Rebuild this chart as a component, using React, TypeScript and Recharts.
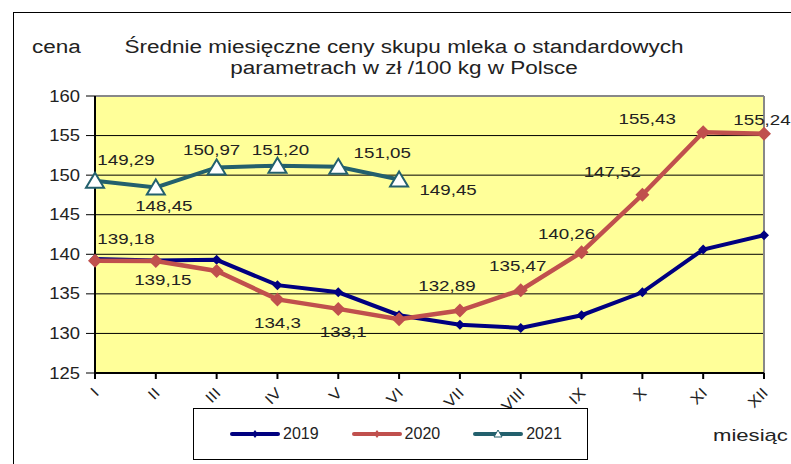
import { CartesianGrid, LabelList, Line, LineChart, ReferenceLine, XAxis, YAxis } from 'recharts';

const months = ['I', 'II', 'III', 'IV', 'V', 'VI', 'VII', 'VIII', 'IX', 'X', 'XI', 'XII'];
const prices2019 = [139.4, 139.2, 139.3, 136.1, 135.2, 132.3, 131.1, 130.7, 132.3, 135.2, 140.6, 142.4];
const prices2020 = [139.18, 139.15, 137.9, 134.3, 133.1, 131.8, 132.89, 135.47, 140.26, 147.52, 155.43, 155.24];
const prices2021 = [149.29, 148.45, 150.97, 151.2, 151.05, 149.45];
const yTicks = [125, 130, 135, 140, 145, 150, 155, 160];

// label offsets (dx, dy) from each point; null = no label
const LABELS_2020: ([number, number] | null)[] = [
  [31, -22], [7, 19], null, [0, 24], [5, 23], null,
  [-13, -24], [-3, -24], [-15, -18], [-30, -23], [-56, -13], [-2, -14],
];
const LABELS_2021: ([number, number] | null)[] = [
  [31, -21], [8, 19], [-5, -17], [3, -16], [44, -14], [49, 11],
];

const COLORS = { y2019: '#000080', y2020: '#C0504D', y2021: '#23606D' };
const FONT = '"Liberation Sans", Arial, sans-serif';
const STRETCH = 1.25;

const chartData = months.map((month, i) => ({
  month,
  y2019: prices2019[i],
  y2020: prices2020[i],
  y2021: i < prices2021.length ? prices2021[i] : null,
}));

const fmt2020 = (v: number) => String(v).replace('.', ',');
const fmt2021 = (v: number) => v.toFixed(2).replace('.', ',');

function makeLabel(offsets: ([number, number] | null)[], fmt: (v: number) => string) {
  return (props: any) => {
    const { x, y, value, index } = props;
    const off = offsets[index];
    if (!off || value == null) return null;
    return (
      <text
        transform={`translate(${x + off[0]},${y + off[1]}) scale(${STRETCH},1)`}
        textAnchor="middle"
        dominantBaseline="central"
        fontSize={15}
        fontFamily={FONT}
        fill="#222"
      >
        {fmt(value)}
      </text>
    );
  };
}

function Diamond({ cx, cy, r, color }: { cx: number; cy: number; r: number; color: string }) {
  if (cx == null || cy == null) return null;
  return <polygon points={`${cx},${cy - r} ${cx + r},${cy} ${cx},${cy + r} ${cx - r},${cy}`} fill={color} />;
}

function Triangle({ cx, cy }: { cx: number; cy: number }) {
  if (cx == null || cy == null) return null;
  return (
    <polygon
      points={`${cx},${cy - 8} ${cx + 9},${cy + 7} ${cx - 9},${cy + 7}`}
      fill="#fff"
      stroke={COLORS.y2021}
      strokeWidth={2}
    />
  );
}

function XTick({ x, y, payload }: any) {
  return (
    <text
      transform={`translate(${x - 3},${y + 5}) rotate(-45) scale(1.15,1)`}
      textAnchor="end"
      dy="0.75em"
      fontSize={15}
      fontFamily={FONT}
      fill="#222"
    >
      {payload.value}
    </text>
  );
}

function YTick({ x, y, payload }: any) {
  return (
    <text
      transform={`translate(${x - 4},${y}) scale(1.15,1)`}
      textAnchor="end"
      dominantBaseline="central"
      fontSize={16}
      fontFamily={FONT}
      fill="#222"
    >
      {payload.value}
    </text>
  );
}

function LegendBox() {
  const items = [
    { label: '2019', color: COLORS.y2019, mark: 'd' },
    { label: '2020', color: COLORS.y2020, mark: 'd' },
    { label: '2021', color: COLORS.y2021, mark: 't' },
  ];
  return (
    <div
      style={{
        position: 'absolute',
        left: 193,
        top: 408,
        width: 395,
        height: 52,
        border: '1px solid #000',
        boxSizing: 'border-box',
        display: 'flex',
        alignItems: 'center',
        paddingLeft: 36,
        fontFamily: FONT,
        fontSize: 16,
        color: '#222',
        background: '#fff',
      }}
    >
      {items.map((it) => (
        <div key={it.label} style={{ display: 'flex', alignItems: 'center', marginRight: 33 }}>
          <svg width={50} height={12}>
            <line x1={2} y1={6} x2={48} y2={6} stroke={it.color} strokeWidth={4} strokeLinecap="round" />
            {it.mark === 'd' ? (
              <polygon points="25,2 28,6 25,10 22,6" fill={it.color} />
            ) : (
              <polygon points="25,2 29,9 21,9" fill="#fff" stroke={it.color} strokeWidth={1} />
            )}
          </svg>
          <span style={{ marginLeft: 3 }}>{it.label}</span>
        </div>
      ))}
    </div>
  );
}

const textStyle = { position: 'absolute' as const, fontFamily: FONT, color: '#222', whiteSpace: 'nowrap' as const };

export default function App() {
  return (
    <div style={{ position: 'absolute', left: 0, top: 0, width: 791, height: 464, background: '#fff', overflow: 'hidden' }}>
      <div style={{ position: 'absolute', left: 13, top: 12, width: 800, height: 470, borderTop: '1px solid #000', borderLeft: '1px solid #000' }} />
      <div style={{ ...textStyle, left: 32, top: 37, fontSize: 18, transform: `scaleX(${STRETCH})`, transformOrigin: 'left' }}>cena</div>
      <div
        style={{
          ...textStyle,
          left: 104,
          top: 37,
          width: 600,
          textAlign: 'center',
          fontSize: 18,
          lineHeight: '21px',
          transform: `scaleX(${STRETCH})`,
        }}
      >
        Średnie miesięczne ceny skupu mleka o standardowych
        <br />
        parametrach w zł /100 kg w Polsce
      </div>
      <div style={{ ...textStyle, left: 713, top: 426, fontSize: 17, transform: 'scaleX(1.3)', transformOrigin: 'left' }}>miesiąc</div>
      <div style={{ position: 'absolute', left: 0, top: 0 }}>
        <LineChart width={791} height={464} data={chartData} margin={{ top: 96, right: 27, bottom: 0, left: 0 }}>
          <CartesianGrid vertical={false} fill="#FFFF99" stroke="#000" strokeWidth={1} />
          <XAxis
            dataKey="month"
            height={91}
            interval={0}
            tick={<XTick />}
            tickSize={6}
            axisLine={{ stroke: '#000', strokeWidth: 2 }}
            tickLine={{ stroke: '#000', strokeWidth: 2 }}
          />
          <YAxis
            width={95}
            domain={[125, 160]}
            ticks={yTicks}
            interval={0}
            tickSize={9}
            tick={<YTick />}
            axisLine={{ stroke: '#000', strokeWidth: 2 }}
            tickLine={{ stroke: '#000', strokeWidth: 1 }}
          />
          <ReferenceLine y={160} stroke="#888" strokeWidth={2} />
          <ReferenceLine x="XII" stroke="#888" strokeWidth={2} />
          <Line
            dataKey="y2019"
            stroke={COLORS.y2019}
            strokeWidth={4}
            isAnimationActive={false}
            dot={(p: any) => <Diamond key={p.index} cx={p.cx} cy={p.cy} r={5} color={COLORS.y2019} />}
            activeDot={false}
          />
          <Line
            dataKey="y2020"
            stroke={COLORS.y2020}
            strokeWidth={4.5}
            isAnimationActive={false}
            dot={(p: any) => <Diamond key={p.index} cx={p.cx} cy={p.cy} r={7} color={COLORS.y2020} />}
            activeDot={false}
          >
            <LabelList dataKey="y2020" content={makeLabel(LABELS_2020, fmt2020)} />
          </Line>
          <Line
            dataKey="y2021"
            stroke={COLORS.y2021}
            strokeWidth={4}
            isAnimationActive={false}
            dot={(p: any) => <Triangle key={p.index} cx={p.cx} cy={p.cy} />}
            activeDot={false}
          >
            <LabelList dataKey="y2021" content={makeLabel(LABELS_2021, fmt2021)} />
          </Line>
        </LineChart>
      </div>
      <LegendBox />
    </div>
  );
}
